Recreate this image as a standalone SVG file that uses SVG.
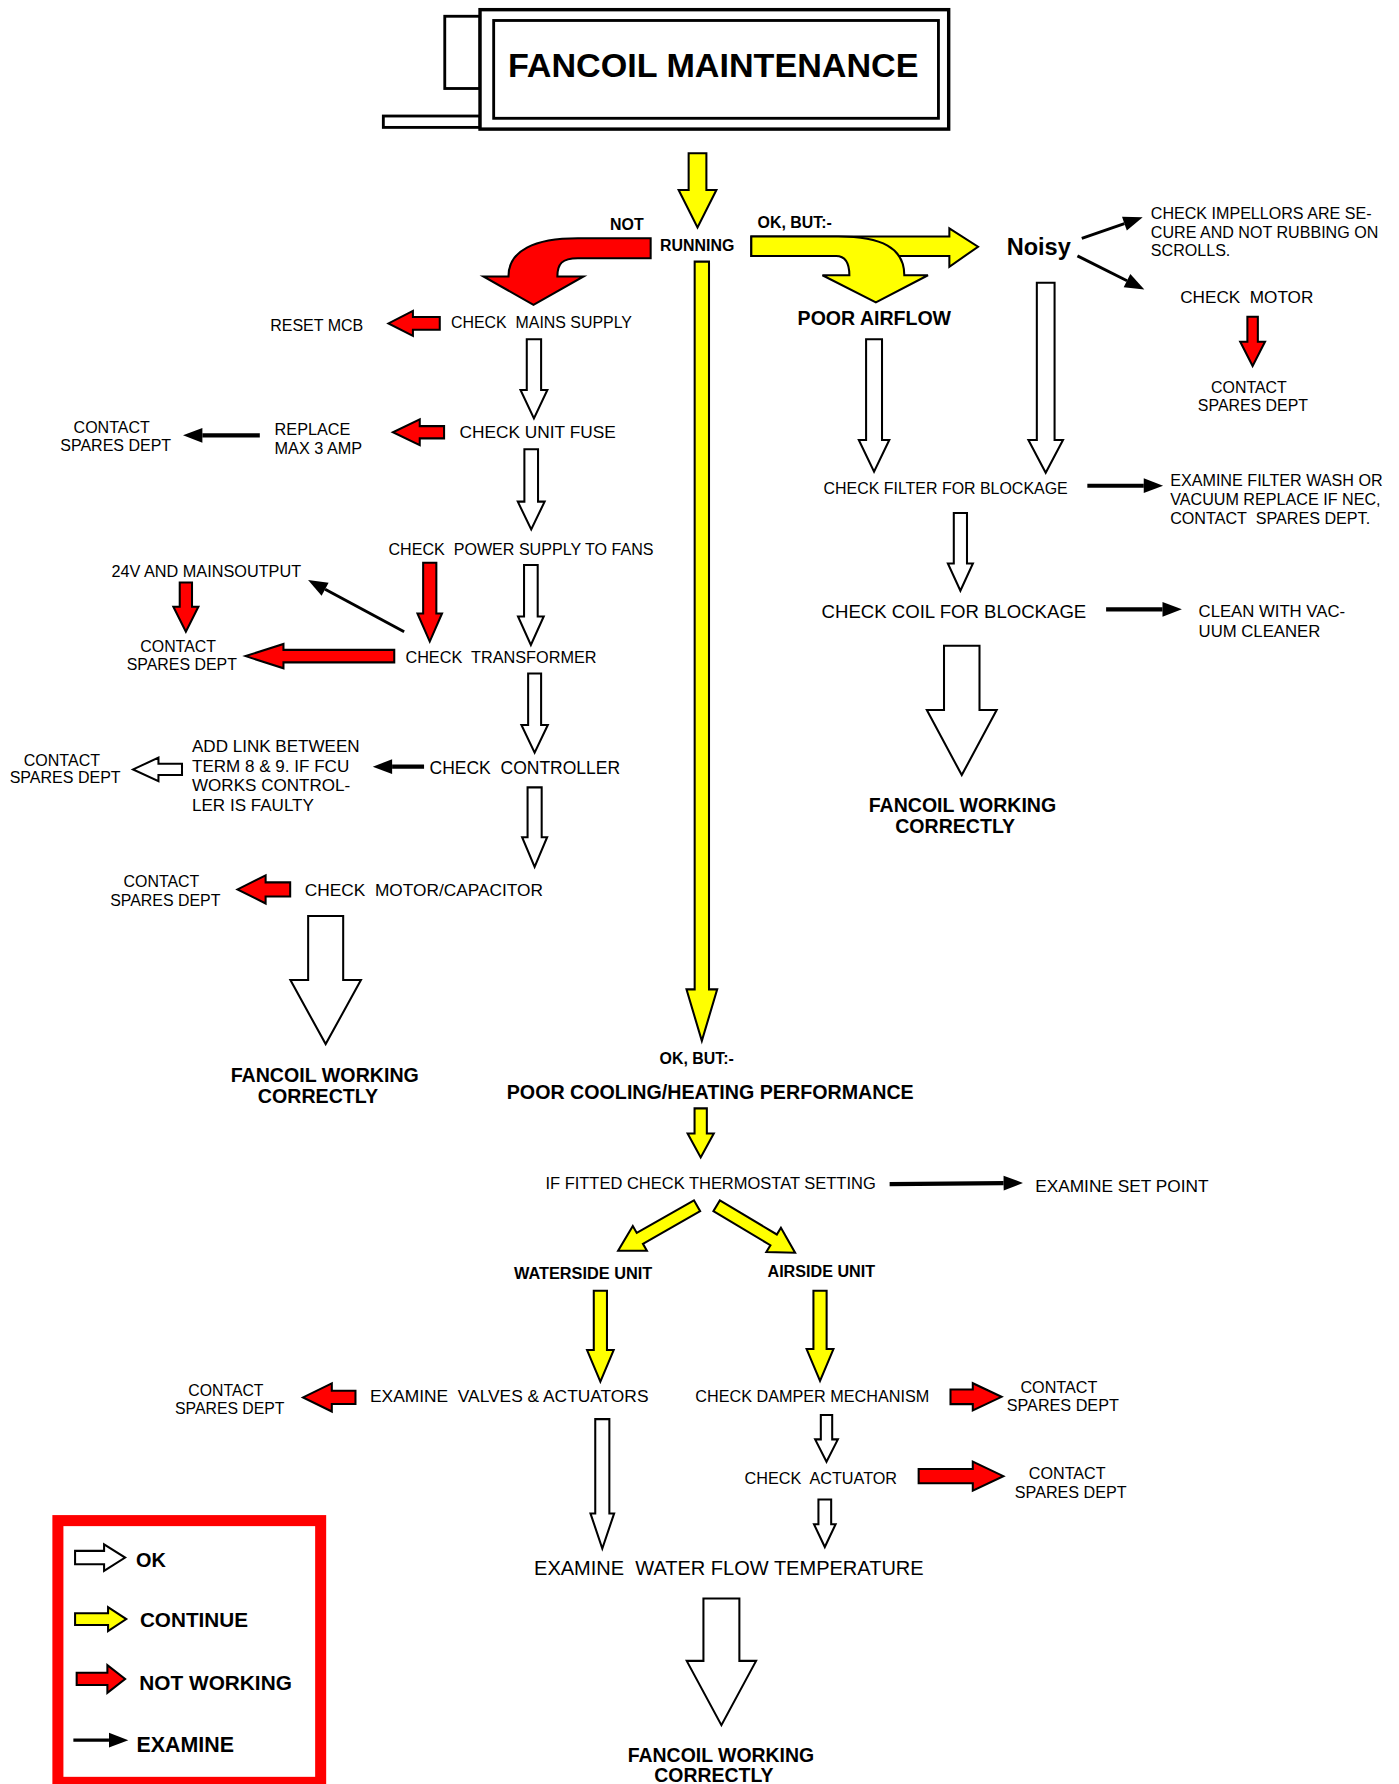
<svg xmlns="http://www.w3.org/2000/svg" width="1399" height="1784" viewBox="0 0 1399 1784">
<defs>
<style>
.t{font-family:"Liberation Sans",Arial,sans-serif;fill:#000}
.b{font-weight:bold}
.m{text-anchor:middle}
.ok{fill:#fff;stroke:#000;stroke-width:1.8;stroke-linejoin:miter}
.go{fill:#ff0;stroke:#000;stroke-width:1.8;stroke-linejoin:miter}
.no{fill:#f00;stroke:#000;stroke-width:1.8;stroke-linejoin:miter}
.ex{stroke:#000;fill:none;marker-end:url(#h)}
.box{fill:#fff;stroke:#000}
</style>
<marker id="h" markerUnits="userSpaceOnUse" markerWidth="17" markerHeight="13" refX="0" refY="6.5" orient="auto" overflow="visible">
<path d="M0,0 L17,6.5 L0,13 Z" fill="#000"/>
</marker>
</defs>
<rect width="1399" height="1784" fill="#fff"/>
<g transform="scale(1.1375)" font-size="14">

<g id="title">
<rect class="box" x="337" y="102" width="85" height="10" stroke-width="2.5"/>
<rect class="box" x="391" y="14.3" width="31" height="63.5" stroke-width="2.5"/>
<rect class="box" x="422" y="8.5" width="412" height="105" stroke-width="3"/>
<rect class="box" x="434" y="18" width="391" height="86" stroke-width="2.5"/>
<text class="t b" x="446.5" y="68" font-size="30">FANCOIL MAINTENANCE</text>
</g>

<g id="connectors">
<!-- top -->
<polygon class="go" points="605.4,134.8 621,134.8 621,167 629.8,167 613.2,199.9 596.6,167 605.4,167"/>
<path class="no" d="M572,209.5 L508,209.5 C470,209.5 447,220 447,243 L425,243 L469,268 L513,243 L490,243 C490,232 494,227 508,227 L572,227 Z"/>
<polygon class="go" points="660.5,208 834.6,208 834.6,200.8 859.8,216.9 834.6,234.5 834.6,225 660.5,225"/>
<path class="go" d="M660.5,208 L737,208 C775,208 795,218 795,242 L815.8,242 L770,265.8 L723,242 L746.7,242 C746.7,231 743,225 735,225 L660.5,225 Z"/>
<polygon class="go" points="610.7,230 623.3,230 623.3,869.8 630.5,869.8 617,915 603.5,869.8 610.7,869.8"/>
<!-- right column -->
<line class="ex" x1="951" y1="209.5" x2="988.5" y2="196.6" stroke-width="2.6"/>
<line class="ex" x1="947.2" y1="225" x2="990.8" y2="246.8" stroke-width="2.6"/>
<polygon class="no" points="1096.6,278.4 1105.8,278.4 1105.8,300.4 1112.1,300.4 1101.2,321.8 1090.3,300.4 1096.6,300.4"/>
<polygon class="ok" points="761.4,298.3 775.4,298.3 775.4,386.8 781.8,386.8 768.4,414.7 755,386.8 761.4,386.8"/>
<polygon class="ok" points="911.5,248.5 927.1,248.5 927.1,386.8 934.5,386.8 919.3,415.6 904.1,386.8 911.5,386.8"/>
<line class="ex" x1="955.9" y1="427" x2="1005.5" y2="427" stroke-width="3.6"/>
<polygon class="ok" points="838.5,451 850.1,451 850.1,495.3 855.3,495.3 844.3,519.3 833.3,495.3 838.5,495.3"/>
<line class="ex" x1="972.4" y1="535.7" x2="1022" y2="535.7" stroke-width="3.6"/>
<polygon class="ok" points="829.9,567.7 861.1,567.7 861.1,624.2 876.2,624.2 845.5,681.4 814.8,624.2 829.9,624.2"/>
<!-- left column -->
<polygon class="no" points="386.6,278.7 386.6,289.9 363,289.9 363,295.3 341.5,284.3 363,273.3 363,278.7"/>
<polygon class="ok" points="463.1,298.3 475.7,298.3 475.7,342.9 481.2,342.9 469.4,367.8 457.6,342.9 463.1,342.9"/>
<polygon class="no" points="390.4,374.6 390.4,385.4 369,385.4 369,391.4 345.4,380 369,368.6 369,374.6"/>
<line class="ex" x1="228.4" y1="382.7" x2="177.9" y2="382.7" stroke-width="3.8"/>
<polygon class="ok" points="461,395 473,395 473,441 478.8,441 467,465.4 455.2,441 461,441"/>
<polygon class="no" points="158,512 168.8,512 168.8,533.4 174.4,533.4 163.4,555.4 152.4,533.4 158,533.4"/>
<line class="ex" x1="355.3" y1="555.4" x2="285.8" y2="518" stroke-width="2.6"/>
<polygon class="no" points="372,494.7 383.6,494.7 383.6,539.3 388.6,539.3 377.8,564 367,539.3 372,539.3"/>
<polygon class="ok" points="460.7,496.7 472.7,496.7 472.7,542 478,542 466.7,567 455.4,542 460.7,542"/>
<polygon class="no" points="346.6,571.3 346.6,582.3 249.2,582.3 249.2,587.5 215.9,576.8 249.2,566.1 249.2,571.3"/>
<polygon class="ok" points="464.3,592 475.7,592 475.7,637.4 481.6,637.4 470,661.7 458.4,637.4 464.3,637.4"/>
<line class="ex" x1="372.8" y1="674" x2="344.7" y2="674" stroke-width="3.8"/>
<polygon class="ok" points="160,671.5 160,681.3 139.3,681.3 139.3,686.7 117,676.4 139.3,666.1 139.3,671.5"/>
<polygon class="ok" points="463.8,692.2 476.2,692.2 476.2,736 481,736 470,762 459,736 463.8,736"/>
<polygon class="no" points="255.1,775.7 255.1,788.1 233.5,788.1 233.5,794.3 208.8,781.9 233.5,769.5 233.5,775.7"/>
<polygon class="ok" points="270.9,805.3 301.7,805.3 301.7,861.6 317.3,861.6 286.3,917.9 255.3,861.6 270.9,861.6"/>
<!-- bottom -->
<polygon class="go" points="610.6,974.4 621.4,974.4 621.4,996.4 627.5,996.4 616,1017.5 604.5,996.4 610.6,996.4"/>
<line class="ex" x1="782.1" y1="1041" x2="882.3" y2="1040.1" stroke-width="3.6"/>
<polygon class="go" transform="translate(612.8,1060) rotate(150.3)" points="0,-5.5 57.9,-5.5 57.9,-12.5 79.9,0 57.9,12.5 57.9,5.5 0,5.5"/>
<polygon class="go" transform="translate(630,1060) rotate(30.9)" points="0,-5.5 58.4,-5.5 58.4,-12.5 80.4,0 58.4,12.5 58.4,5.5 0,5.5"/>
<polygon class="go" points="522,1134.7 533.6,1134.7 533.6,1186.9 539.5,1186.9 527.8,1214.7 516.1,1186.9 522,1186.9"/>
<polygon class="go" points="715.1,1134.7 726.7,1134.7 726.7,1186 732.7,1186 720.9,1214 709.1,1186 715.1,1186"/>
<polygon class="no" points="312.5,1222.7 312.5,1234.3 291.7,1234.3 291.7,1240.9 266.4,1228.5 291.7,1216.1 291.7,1222.7"/>
<polygon class="no" points="835.6,1221.6 855.2,1221.6 855.2,1216 880.5,1228 855.2,1240 855.2,1234.4 835.6,1234.4"/>
<polygon class="ok" points="721.6,1244 731.6,1244 731.6,1265.4 736.6,1265.4 726.6,1285.1 716.6,1265.4 721.6,1265.4"/>
<polygon class="no" points="807.6,1291.5 855.2,1291.5 855.2,1284.95 882.1,1297.7 855.2,1310.45 855.2,1303.9 807.6,1303.9"/>
<polygon class="ok" points="719.5,1318.2 730.7,1318.2 730.7,1340 734.6,1340 725.1,1360 715.6,1340 719.5,1340"/>
<polygon class="ok" points="523.3,1247.6 535.7,1247.6 535.7,1330.5 539.9,1330.5 529.5,1361.3 519.1,1330.5 523.3,1330.5"/>
<polygon class="ok" points="618.4,1405.3 650,1405.3 650,1460.1 664.7,1460.1 634.2,1516.6 603.7,1460.1 618.4,1460.1"/>
</g>

<g id="n-running">
<text class="t b" x="536.3" y="202.2">NOT</text>
<text class="t b" x="580.3" y="220.4">RUNNING</text>
<text class="t b" x="666" y="200">OK, BUT:-</text>
</g>
<g id="n-noisy"><text class="t b" x="885" y="224.2" font-size="20.7">Noisy</text></g>
<g id="n-poorairflow"><text class="t b" x="701.2" y="285.7" font-size="17.2">POOR AIRFLOW</text></g>
<g id="n-impellors">
<text class="t" x="1011.7" y="192.8" font-size="14.15">CHECK IMPELLORS ARE SE-</text>
<text class="t" x="1011.7" y="209" font-size="14.15">CURE AND NOT RUBBING ON</text>
<text class="t" x="1011.7" y="224.8" font-size="14.15">SCROLLS.</text>
</g>
<g id="n-checkmotor"><text class="t" x="1037.5" y="266.7" font-size="15.1" xml:space="preserve">CHECK  MOTOR</text></g>
<g id="n-spares-r1">
<text class="t m" x="1098" y="345.2">CONTACT</text>
<text class="t m" x="1101.5" y="361.4">SPARES DEPT</text>
</g>
<g id="n-filter"><text class="t" x="724" y="434.3" font-size="14.03">CHECK FILTER FOR BLOCKAGE</text></g>
<g id="n-examinefilter">
<text class="t" x="1028.7" y="427.3" font-size="14.2">EXAMINE FILTER WASH OR</text>
<text class="t" x="1028.7" y="444" font-size="14.2">VACUUM REPLACE IF NEC,</text>
<text class="t" x="1028.7" y="460.7" font-size="14.2" xml:space="preserve">CONTACT  SPARES DEPT.</text>
</g>
<g id="n-coil"><text class="t" x="722.3" y="543.6" font-size="16.35">CHECK COIL FOR BLOCKAGE</text></g>
<g id="n-clean">
<text class="t" x="1053.7" y="542.7" font-size="14.7">CLEAN WITH VAC-</text>
<text class="t" x="1053.7" y="560.3" font-size="14.7">UUM CLEANER</text>
</g>
<g id="n-working-r">
<text class="t b m" x="846.1" y="713.6" font-size="17.2">FANCOIL WORKING</text>
<text class="t b m" x="839.7" y="732.7" font-size="17.2">CORRECTLY</text>
</g>

<g id="n-resetmcb"><text class="t" x="237.5" y="290.7" font-size="14.1">RESET MCB</text></g>
<g id="n-mains"><text class="t" x="396.5" y="288.7" font-size="14" xml:space="preserve">CHECK  MAINS SUPPLY</text></g>
<g id="n-fuse"><text class="t" x="404" y="385.4" font-size="15.2">CHECK UNIT FUSE</text></g>
<g id="n-replace">
<text class="t" x="241.4" y="382.4" font-size="14.3">REPLACE</text>
<text class="t" x="241.4" y="399.2" font-size="14.3">MAX 3 AMP</text>
</g>
<g id="n-spares-l1">
<text class="t m" x="98.2" y="380.4" font-size="14.1">CONTACT</text>
<text class="t m" x="101.7" y="396.2" font-size="14.1">SPARES DEPT</text>
</g>
<g id="n-power"><text class="t" x="341.5" y="488" font-size="14.15" xml:space="preserve">CHECK  POWER SUPPLY TO FANS</text></g>
<g id="n-24v"><text class="t" x="98" y="507" font-size="14.3">24V AND MAINSOUTPUT</text></g>
<g id="n-spares-l2">
<text class="t m" x="156.6" y="573.5">CONTACT</text>
<text class="t m" x="159.8" y="589">SPARES DEPT</text>
</g>
<g id="n-transformer"><text class="t" x="356.4" y="582.6" font-size="14.3" xml:space="preserve">CHECK  TRANSFORMER</text></g>
<g id="n-controller"><text class="t" x="377.6" y="680.5" font-size="15.4" xml:space="preserve">CHECK  CONTROLLER</text></g>
<g id="n-addlink">
<text class="t" x="168.8" y="660.9" font-size="15">ADD LINK BETWEEN</text>
<text class="t" x="168.8" y="678.4" font-size="15">TERM 8 &amp; 9. IF FCU</text>
<text class="t" x="168.8" y="695.2" font-size="15">WORKS CONTROL-</text>
<text class="t" x="168.8" y="712.7" font-size="15">LER IS FAULTY</text>
</g>
<g id="n-spares-l3">
<text class="t m" x="54.4" y="673.2" font-size="14.1">CONTACT</text>
<text class="t m" x="57.3" y="688.7" font-size="14.1">SPARES DEPT</text>
</g>
<g id="n-motorcap"><text class="t" x="268" y="787.8" font-size="15.2" xml:space="preserve">CHECK  MOTOR/CAPACITOR</text></g>
<g id="n-spares-l4">
<text class="t m" x="141.9" y="779.5">CONTACT</text>
<text class="t m" x="145.3" y="796.3">SPARES DEPT</text>
</g>
<g id="n-working-l">
<text class="t b m" x="285.5" y="951" font-size="17.27">FANCOIL WORKING</text>
<text class="t b m" x="279.5" y="970" font-size="17.27">CORRECTLY</text>
</g>

<g id="n-poorcooling">
<text class="t b" x="579.8" y="935.5">OK, BUT:-</text>
<text class="t b" x="445.5" y="966.5" font-size="17.3">POOR COOLING/HEATING PERFORMANCE</text>
</g>
<g id="n-thermostat"><text class="t" x="479.5" y="1045.7" font-size="14.5">IF FITTED CHECK THERMOSTAT SETTING</text></g>
<g id="n-setpoint"><text class="t" x="910" y="1047.7" font-size="15.2">EXAMINE SET POINT</text></g>
<g id="n-waterside"><text class="t b" x="451.8" y="1124.8" font-size="14.35">WATERSIDE UNIT</text></g>
<g id="n-airside"><text class="t b" x="674.7" y="1122.4" font-size="14.2">AIRSIDE UNIT</text></g>
<g id="n-valves"><text class="t" x="325.3" y="1232.4" font-size="15.27" xml:space="preserve">EXAMINE  VALVES &amp; ACTUATORS</text></g>
<g id="n-spares-b1">
<text class="t m" x="198.6" y="1227.4" font-size="13.9">CONTACT</text>
<text class="t m" x="202" y="1243.2" font-size="13.9">SPARES DEPT</text>
</g>
<g id="n-damper"><text class="t" x="611.3" y="1232.4" font-size="14.25">CHECK DAMPER MECHANISM</text></g>
<g id="n-spares-b2">
<text class="t m" x="930.9" y="1224.4" font-size="14.25">CONTACT</text>
<text class="t m" x="934.3" y="1240.2" font-size="14.25">SPARES DEPT</text>
</g>
<g id="n-actuator"><text class="t" x="654.5" y="1304.8" font-size="14.26" xml:space="preserve">CHECK  ACTUATOR</text></g>
<g id="n-spares-b3">
<text class="t m" x="938.2" y="1300.6" font-size="14.2">CONTACT</text>
<text class="t m" x="941.3" y="1316.5" font-size="14.2">SPARES DEPT</text>
</g>
<g id="n-waterflow"><text class="t" x="469.5" y="1384.7" font-size="17.6" xml:space="preserve">EXAMINE  WATER FLOW TEMPERATURE</text></g>
<g id="n-working-b">
<text class="t b m" x="633.8" y="1548.9" font-size="17.1">FANCOIL WORKING</text>
<text class="t b m" x="627.6" y="1566.5" font-size="17.1">CORRECTLY</text>
</g>

<g id="legend">
<rect x="50.9" y="1336.8" width="231" height="230.1" fill="none" stroke="#f00" stroke-width="9.7"/>
<polygon class="ok" points="66,1363.4 91.5,1363.4 91.5,1357.6 110,1369.3 91.5,1381 91.5,1375.2 66,1375.2"/>
<text class="t b" x="119.6" y="1377.4" font-size="17.5">OK</text>
<polygon class="go" points="66,1418.3 95,1418.3 95,1412.9 111,1423.4 95,1433.9 95,1428.5 66,1428.5"/>
<text class="t b" x="123" y="1430" font-size="18.2">CONTINUE</text>
<polygon class="no" points="67.4,1470.6 94.4,1470.6 94.4,1463.8 110,1476 94.4,1488.2 94.4,1481.4 67.4,1481.4"/>
<text class="t b" x="122.5" y="1485.8" font-size="18.3">NOT WORKING</text>
<line class="ex" x1="64.5" y1="1529.8" x2="95.8" y2="1529.8" stroke-width="2.9"/>
<text class="t b" x="120" y="1540" font-size="18.8">EXAMINE</text>
</g>

</g>
</svg>
